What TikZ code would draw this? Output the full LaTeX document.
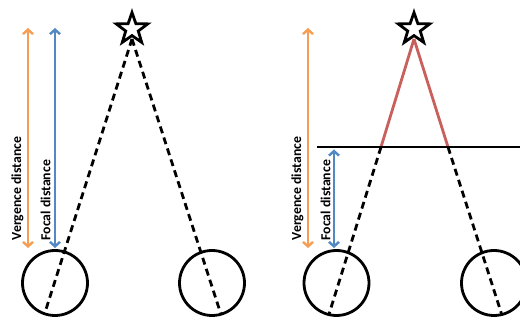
\documentclass[tikz,border=0pt]{standalone}
\usepackage{fontspec}
\setmainfont{Carlito}
\usetikzlibrary{shapes.geometric,arrows.meta}
\definecolor{vorange}{HTML}{F79E54}
\definecolor{fblue}{HTML}{5288C4}
\definecolor{rayred}{HTML}{C9605C}
\tikzset{
  starnode/.style={draw=black, line width=2.8pt, shape=star, star points=5, star point ratio=2.5, minimum size=33pt, inner sep=0pt, fill=white},
  eye/.style={draw=black, line width=2.8pt, circle, minimum size=65pt, inner sep=0pt},
  ray/.style={draw=black, line width=2.8pt, dash pattern=on 7pt off 4.5pt},
  redray/.style={draw=rayred, line width=2.8pt},
  plane/.style={draw=black, line width=2.8pt},
  distarrow/.style={line width=2.4pt, {Straight Barb[length=4.5pt,width=10pt]}-{Straight Barb[length=4.5pt,width=10pt]}},
  lbl/.style={font=\bfseries\fontsize{13.8}{14}\selectfont, rotate=90, anchor=west, inner sep=0pt}
}
\begin{document}
\begin{tikzpicture}[x=1pt,y=-1pt]
\clip (0,0) rectangle (520,320);
\fill[white] (0,0) rectangle (520,320);
% ---------- left panel ----------
\node[eye] (eyeLL) at (55,283) {};
\node[eye] (eyeLR) at (212,283) {};
\coordinate (apexL) at (132,39);
\coordinate (endLL) at (44.6,313.7);
\coordinate (endLR) at (221,314.5);
\draw[ray] (apexL) -- (endLL);
\draw[ray] (apexL) -- (endLR);
\node[starnode] (starL) at (132,29) {};
\coordinate (vLtop) at (28,28);
\coordinate (vLbot) at (28,248);
\coordinate (fLtop) at (55,28);
\coordinate (fLbot) at (55,248);
\draw[distarrow, vorange] (vLbot) -- (vLtop);
\draw[distarrow, fblue] (fLbot) -- (fLtop);
\node[lbl] (vergL) at (17.5,240.5) {Vergence distance};
\node[lbl] (focL) at (45.5,240.5) {Focal distance};
% ---------- right panel ----------
\node[eye] (eyeRL) at (336.5,283) {};
\node[eye] (eyeRR) at (494,283) {};
\coordinate (apexR) at (414,39);
\coordinate (hitRL) at (381,147);
\coordinate (hitRR) at (448,147);
\coordinate (endRL) at (328.6,315.5);
\coordinate (endRR) at (502,315.3);
\draw[redray] (apexR) -- (hitRL);
\draw[redray] (apexR) -- (hitRR);
\draw[ray] (hitRL) -- (endRL);
\draw[ray] (hitRR) -- (endRR);
\coordinate (planeA) at (317,147);
\coordinate (planeB) at (521,147);
\draw[plane] (planeA) -- (planeB);
\node[starnode] (starR) at (414,29) {};
\coordinate (vRtop) at (308,28);
\coordinate (vRbot) at (308,248);
\coordinate (fRtop) at (334,149.5);
\coordinate (fRbot) at (334,248);
\draw[distarrow, vorange] (vRbot) -- (vRtop);
\draw[distarrow, fblue] (fRbot) -- (fRtop);
\node[lbl] (vergR) at (297.5,240.5) {Vergence distance};
\node[lbl] (focR) at (325.5,240.5) {Focal distance};
\end{tikzpicture}
\end{document}
